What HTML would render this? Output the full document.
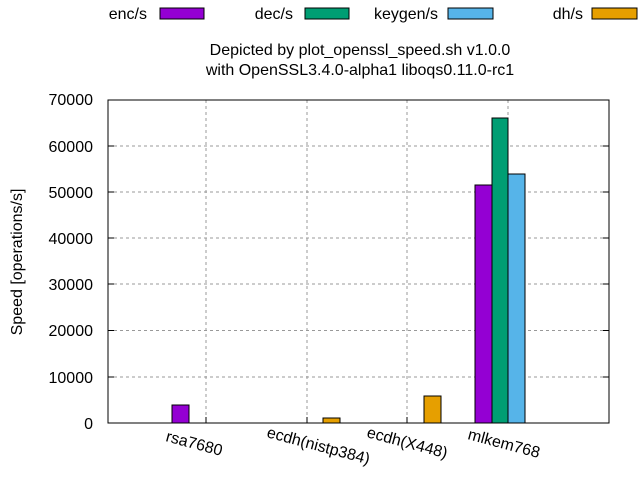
<!DOCTYPE html>
<html><head><style>body{margin:0;background:#fff}svg{display:block}text{font-family:"Liberation Sans",sans-serif;font-size:16px;fill:#000}</style></head>
<body>
<svg width="640" height="480" xmlns="http://www.w3.org/2000/svg">
<g stroke="#999" stroke-dasharray="3,3" stroke-width="1">
<line x1="108" y1="377" x2="609" y2="377"/><line x1="108" y1="330.5" x2="609" y2="330.5"/><line x1="108" y1="284" x2="609" y2="284"/><line x1="108" y1="238" x2="609" y2="238"/><line x1="108" y1="192" x2="609" y2="192"/><line x1="108" y1="146" x2="609" y2="146"/>
<line x1="206" y1="100" x2="206" y2="423"/><line x1="307" y1="100" x2="307" y2="423"/><line x1="407" y1="100" x2="407" y2="423"/><line x1="508" y1="100" x2="508" y2="423"/>
</g>
<g stroke="#000" stroke-width="1">
<rect x="172" y="405" width="17" height="18" fill="#9400d3"/>
<rect x="323" y="418" width="17" height="5" fill="#e69f00"/>
<rect x="424" y="396" width="17" height="27" fill="#e69f00"/>
<rect x="475" y="185" width="17" height="238" fill="#9400d3"/>
<rect x="492" y="118" width="16" height="305" fill="#009e73"/>
<rect x="508" y="174" width="17" height="249" fill="#56b4e9"/>
</g>
<rect x="108" y="100" width="501" height="323" fill="none" stroke="#000" stroke-width="1"/>
<g stroke="#000"><line x1="108" y1="377" x2="114" y2="377"/><line x1="108" y1="330.5" x2="114" y2="330.5"/><line x1="108" y1="284" x2="114" y2="284"/><line x1="108" y1="238" x2="114" y2="238"/><line x1="108" y1="192" x2="114" y2="192"/><line x1="108" y1="146" x2="114" y2="146"/>
<line x1="603" y1="377" x2="609" y2="377"/><line x1="603" y1="330.5" x2="609" y2="330.5"/><line x1="603" y1="284" x2="609" y2="284"/><line x1="603" y1="238" x2="609" y2="238"/><line x1="603" y1="192" x2="609" y2="192"/><line x1="603" y1="146" x2="609" y2="146"/>
<line x1="206" y1="423" x2="206" y2="417"/><line x1="307" y1="423" x2="307" y2="417"/><line x1="407" y1="423" x2="407" y2="417"/><line x1="508" y1="423" x2="508" y2="417"/></g>
<g text-anchor="end">
<text x="93" y="429">0</text><text x="93" y="383">10000</text><text x="93" y="336">20000</text><text x="93" y="290">30000</text><text x="93" y="244">40000</text><text x="93" y="198">50000</text><text x="93" y="152">60000</text><text x="93" y="105">70000</text>
</g>
<text transform="translate(165,441) rotate(15)">rsa7680</text>
<text transform="translate(266,437) rotate(15)">ecdh(nistp384)</text>
<text transform="translate(366,437) rotate(15)">ecdh(X448)</text>
<text transform="translate(467,439) rotate(15)">mlkem768</text>
<text transform="translate(22,262) rotate(-90)" text-anchor="middle">Speed [operations/s]</text>
<text x="360" y="55" text-anchor="middle">Depicted by plot_openssl_speed.sh v1.0.0</text>
<text x="360" y="75" text-anchor="middle">with OpenSSL3.4.0-alpha1 liboqs0.11.0-rc1</text>
<g text-anchor="end"><text x="147" y="19">enc/s</text><text x="293" y="19">dec/s</text><text x="438" y="19">keygen/s</text><text x="583" y="19">dh/s</text></g>
<rect x="160" y="8" width="44" height="11" fill="#9400d3" stroke="#000"/>
<rect x="305" y="8" width="44" height="11" fill="#009e73" stroke="#000"/>
<rect x="448" y="8" width="45" height="11" fill="#56b4e9" stroke="#000"/>
<rect x="592" y="8" width="45" height="11" fill="#e69f00" stroke="#000"/>
</svg>
</body></html>
